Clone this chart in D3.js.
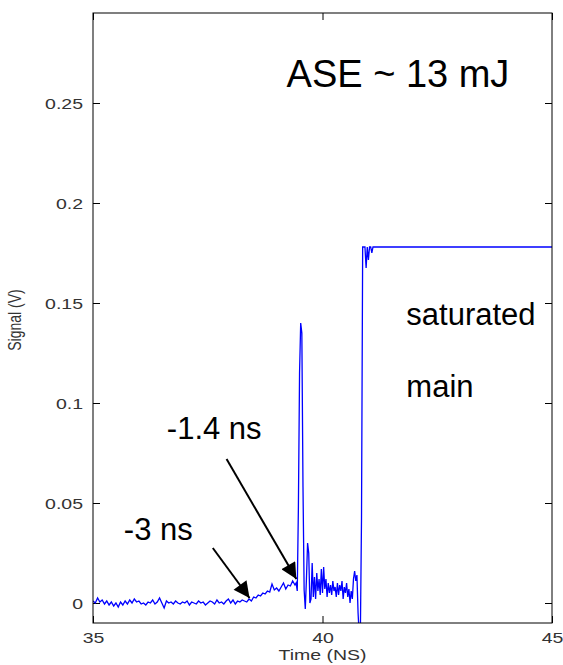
<!DOCTYPE html>
<html>
<head>
<meta charset="utf-8">
<script src="https://cdn.jsdelivr.net/npm/d3@7"></script>
<style>
  body { margin: 0; background: #fff; }
  svg { display: block; }
</style>
</head>
<body>
<div id="chart"></div>
<script>
// time axis (ns) and signal (V)
var timeNs = [
  35.00,35.05,35.10,35.15,35.20,35.25,35.30,35.35,35.40,35.45,35.50,35.55,35.60,35.65,35.70,35.75,35.80,35.85,35.90,35.95,
  36.00,36.05,36.10,36.15,36.20,36.25,36.30,36.35,36.40,36.45,36.50,36.55,36.60,36.65,36.70,36.75,36.80,36.85,36.90,36.95,
  37.00,37.05,37.10,37.15,37.20,37.25,37.30,37.35,37.40,37.45,37.50,37.55,37.60,37.65,37.70,37.75,37.80,37.85,37.90,37.95,
  38.00,38.05,38.10,38.15,38.20,38.25,38.30,
  38.35,38.40,38.45,38.50,38.55,38.60,38.65,38.70,38.75,38.80,38.85,38.90,38.95,39.00,39.05,39.10,39.15,39.20,39.25,39.30,39.35,39.40,
  39.425,39.450,39.475,39.500,39.525,39.550,39.575,39.600,39.625,39.650,39.675,39.700,39.725,39.750,39.775,39.800,39.825,39.850,39.875,39.900,
  39.925,39.950,39.975,40.000,40.025,40.050,40.075,40.100,40.125,40.150,40.175,40.200,40.225,40.250,40.275,40.300,40.325,40.350,40.375,40.400,
  40.425,40.450,40.475,40.500,40.525,40.550,40.575,40.600,40.625,40.650,40.675,40.700,40.725,40.750,40.775,40.800,40.825,40.850,40.875,40.900,
  40.925,40.950,40.975,41.000,41.025,41.050,41.075,41.100,45.00
];
var signalV = [
  0.0010,0.0000,0.0025,0.0005,0.0015,-0.0005,0.0010,-0.0010,0.0005,-0.0015,0.0000,-0.0020,0.0005,-0.0010,0.0010,-0.0005,0.0015,0.0000,0.0020,0.0005,
  0.0010,-0.0005,0.0000,-0.0010,0.0005,0.0000,0.0015,-0.0005,0.0005,0.0025,0.0000,-0.0025,0.0010,0.0000,0.0005,-0.0005,0.0010,0.0000,-0.0005,0.0005,
  0.0000,0.0010,-0.0010,0.0005,0.0000,-0.0005,0.0010,0.0000,0.0005,-0.0010,0.0000,0.0010,0.0005,-0.0005,0.0015,0.0000,0.0005,-0.0005,0.0010,0.0020,
  0.0000,0.0015,-0.0005,0.0010,0.0005,0.0015,0.0010,
  0.0005,0.0020,0.0010,0.0030,0.0025,0.0040,0.0035,0.0050,0.0045,0.0060,0.0055,0.0095,0.0065,0.0075,0.0060,0.0080,0.0100,0.0070,0.0090,0.0085,0.0110,0.0090,
  0.0100,0.0060,0.0480,0.1150,0.1400,0.1350,0.0580,0.0065,-0.0030,0.0120,0.0300,0.0250,0.0000,0.0020,0.0200,0.0030,0.0130,0.0020,0.0150,0.0060,
  0.0120,0.0040,0.0170,0.0050,0.0180,0.0070,0.0120,0.0030,0.0100,0.0050,0.0090,0.0040,0.0110,0.0060,0.0080,0.0030,0.0100,0.0040,0.0090,0.0060,
  0.0110,0.0020,0.0080,0.0050,0.0100,0.0030,0.0070,0.0000,0.0060,0.0020,0.0120,0.0160,0.0110,0.0140,-0.0050,-0.0160,-0.0150,0.0425,0.1780,0.1780,
  0.1780,0.1675,0.1780,0.1715,0.1780,0.1780,0.1750,0.1780,0.1780
];

var xTicks = [35, 40, 45];
var yTicks = [0, 0.05, 0.1, 0.15, 0.2, 0.25];

// annotations in data units
var notes = [
  { text: "ASE ~ 13 mJ", t: 39.217, v: 0.258, size: 38, anchor: "start" },
  { text: "saturated", t: 41.826, v: 0.139, size: 31, anchor: "start" },
  { text: "main", t: 41.826, v: 0.103, size: 31, anchor: "start" },
  { text: "-1.4 ns", t: 36.609, v: 0.082, size: 31, anchor: "start" },
  { text: "-3 ns", t: 37.174, v: 0.0315, size: 31, anchor: "end" }
];
var arrows = [
  { t0: 37.61, v0: 0.0275, t1: 38.41, v1: 0.0025 },
  { t0: 37.91, v0: 0.072, t1: 39.43, v1: 0.012 }
];

var width = 563, height = 665,
    margin = {left: 93, right: 11, top: 13, bottom: 42},
    stretch = 1.3;

var svg = d3.select("#chart").append("svg")
    .attr("width", width).attr("height", height);

var x = d3.scaleLinear().domain([35, 45]).range([margin.left, width - margin.right]);
var y = d3.scaleLinear().domain([-0.01, 0.295]).range([height - margin.bottom, margin.top]);

svg.append("clipPath").attr("id", "plotclip")
  .append("rect")
    .attr("x", x(35)).attr("y", y(0.295))
    .attr("width", x(45) - x(35)).attr("height", y(-0.01) - y(0.295));

var fmt = function (d) { return String(+d.toFixed(2)); };

// axes, ticks pointing inward like matlab
var xAxis = svg.append("g")
    .attr("transform", "translate(0," + y(-0.01) + ")")
    .call(d3.axisBottom(x).tickValues(xTicks).tickFormat(fmt).tickSizeInner(-7).tickSizeOuter(0).tickPadding(9));
var xTop = svg.append("g")
    .attr("transform", "translate(0," + y(0.295) + ")")
    .call(d3.axisTop(x).tickValues(xTicks).tickFormat("").tickSizeInner(-7).tickSizeOuter(0));
var yAxis = svg.append("g")
    .attr("transform", "translate(" + x(35) + ",0)")
    .call(d3.axisLeft(y).tickValues(yTicks).tickFormat(fmt).tickSizeInner(-7).tickSizeOuter(0).tickPadding(10 / stretch));
var yRight = svg.append("g")
    .attr("transform", "translate(" + x(45) + ",0)")
    .call(d3.axisRight(y).tickValues(yTicks).tickFormat("").tickSizeInner(-7).tickSizeOuter(0));

svg.selectAll(".domain").remove();
svg.selectAll(".tick line").attr("stroke", "#000");
svg.selectAll(".tick text")
    .attr("font-family", "Liberation Sans, Arial, sans-serif")
    .attr("font-size", 15)
    .attr("fill", "#333")
    .attr("transform", "scale(" + stretch + ",1)");
yAxis.selectAll(".tick text").attr("dy", "0.36em");

// trace
var line = d3.line()
    .x(function (d, i) { return x(timeNs[i]); })
    .y(function (d) { return y(d); });

svg.append("path")
    .datum(signalV)
    .attr("clip-path", "url(#plotclip)")
    .attr("fill", "none")
    .attr("stroke", "#0000ff")
    .attr("stroke-width", 1.3)
    .attr("stroke-linejoin", "miter")
    .attr("d", line);

// box
svg.append("rect")
    .attr("x", x(35)).attr("y", y(0.295))
    .attr("width", x(45) - x(35)).attr("height", y(-0.01) - y(0.295))
    .attr("fill", "none").attr("stroke", "#000").attr("stroke-width", 1);

// axis titles
svg.append("text")
    .attr("x", (x(35) + x(45)) / 2 / stretch).attr("y", 660)
    .attr("transform", "scale(" + stretch + ",1)")
    .attr("text-anchor", "middle")
    .attr("font-family", "Liberation Sans, Arial, sans-serif")
    .attr("font-size", 15).attr("fill", "#333")
    .text("Time (NS)");

svg.append("text")
    .attr("transform", "translate(21," + 320 + ") rotate(-90) scale(1," + stretch + ")")
    .attr("text-anchor", "middle")
    .attr("font-family", "Liberation Sans, Arial, sans-serif")
    .attr("font-size", 14).attr("fill", "#333")
    .text("Signal (V)");

// annotation text
svg.selectAll("text.note")
    .data(notes).enter()
  .append("text")
    .attr("class", "note")
    .attr("x", function (d) { return x(d.t); })
    .attr("y", function (d) { return y(d.v); })
    .attr("text-anchor", function (d) { return d.anchor; })
    .attr("font-family", "Liberation Sans, Arial, sans-serif")
    .attr("font-size", function (d) { return d.size; })
    .attr("fill", "#000")
    .text(function (d) { return d.text; });

// arrows
svg.append("defs").append("marker")
    .attr("id", "head")
    .attr("viewBox", "0 0 10 10")
    .attr("refX", 10).attr("refY", 5)
    .attr("markerWidth", 10).attr("markerHeight", 8)
    .attr("markerUnits", "strokeWidth")
    .attr("orient", "auto")
  .append("path")
    .attr("d", "M0,0 L10,5 L0,10 Z")
    .attr("fill", "#000");

svg.selectAll("line.arrow")
    .data(arrows).enter()
  .append("line")
    .attr("class", "arrow")
    .attr("x1", function (d) { return x(d.t0); })
    .attr("y1", function (d) { return y(d.v0); })
    .attr("x2", function (d) { return x(d.t1); })
    .attr("y2", function (d) { return y(d.v1); })
    .attr("stroke", "#000")
    .attr("stroke-width", 2)
    .attr("marker-end", "url(#head)");
</script>
</body>
</html>
